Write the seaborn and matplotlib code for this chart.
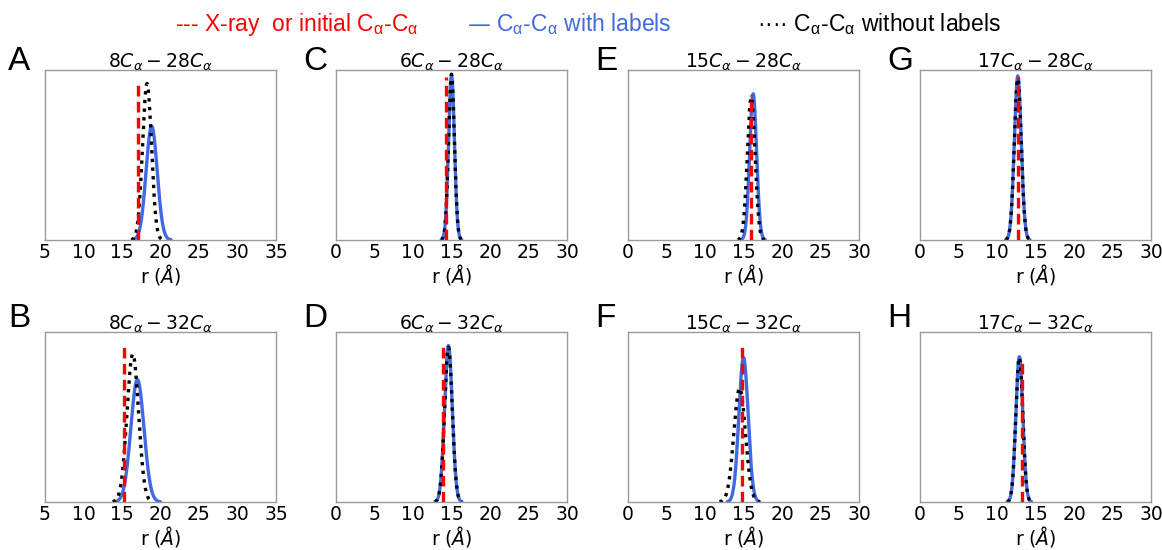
import numpy as np
import pandas as pd
import matplotlib
matplotlib.use("Agg")
import matplotlib.pyplot as plt
import seaborn as sns

# ---------------- data ----------------
panels = ["A", "B", "C", "D", "E", "F", "G", "H"]
titles = [r"$8C_{\alpha} - 28C_{\alpha}$", r"$8C_{\alpha} - 32C_{\alpha}$",
          r"$6C_{\alpha} - 28C_{\alpha}$", r"$6C_{\alpha} - 32C_{\alpha}$",
          r"$15C_{\alpha} - 28C_{\alpha}$", r"$15C_{\alpha} - 32C_{\alpha}$",
          r"$17C_{\alpha} - 28C_{\alpha}$", r"$17C_{\alpha} - 32C_{\alpha}$"]
x_min = [5, 5, 0, 0, 0, 0, 0, 0]
x_max = [35, 35, 30, 30, 30, 30, 30, 30]
# X-ray / initial distance (dashed red) and drawn height (fraction of axis)
xray_pos = [17.1, 15.3, 14.25, 13.9, 15.95, 14.75, 12.7, 13.2]
xray_height = [0.92, 0.91, 0.96, 0.91, 0.85, 0.91, 0.96, 0.83]
# distribution with labels (blue)
lab_mean = [18.85, 17.0, 15.0, 14.6, 16.25, 15.0, 12.7, 12.9]
lab_sd = [0.72, 0.85, 0.38, 0.5, 0.45, 0.6, 0.45, 0.45]
lab_peak = [0.67, 0.72, 0.97, 0.92, 0.86, 0.85, 0.965, 0.855]
# distribution without labels (black dotted)
nolab_mean = [18.25, 16.4, 15.0, 14.6, 16.0, 14.5, 12.7, 12.9]
nolab_sd = [0.58, 0.75, 0.38, 0.5, 0.5, 0.75, 0.45, 0.45]
nolab_peak = [0.92, 0.87, 0.975, 0.91, 0.84, 0.67, 0.95, 0.85]

# ---------------- style ----------------
sns.set_style("white", {"axes.edgecolor": "#9a9a9a"})
plt.rcParams["font.family"] = ["DejaVu Sans"]
plt.rcParams["axes.linewidth"] = 1.0
plt.rcParams["text.color"] = "black"
plt.rcParams["axes.labelcolor"] = "black"
plt.rcParams["xtick.color"] = "black"

W, H = 1162, 550
fig = plt.figure(figsize=(W / 100, H / 100), dpi=100)

col_left = [45, 336, 628, 920]
row_top = [70, 332]
ax_w, ax_h = 231, 170

blue = "#4169e1"


def gauss(x, m, s, p):
    return p * np.exp(-0.5 * ((x - m) / s) ** 2)


for i, name in enumerate(panels):
    col, row = i // 2, i % 2
    l, t = col_left[col], row_top[row]
    ax = fig.add_axes([l / W, 1 - (t + ax_h) / H, ax_w / W, ax_h / H])
    g1 = np.linspace(lab_mean[i] - 3.5 * lab_sd[i], lab_mean[i] + 3.5 * lab_sd[i], 400)
    g2 = np.linspace(nolab_mean[i] - 3.5 * nolab_sd[i], nolab_mean[i] + 3.5 * nolab_sd[i], 400)
    df1 = pd.DataFrame({"r": g1, "p": gauss(g1, lab_mean[i], lab_sd[i], lab_peak[i])})
    df2 = pd.DataFrame({"r": g2, "p": gauss(g2, nolab_mean[i], nolab_sd[i], nolab_peak[i])})
    sns.lineplot(data=df1, x="r", y="p", ax=ax, color=blue, lw=2.4)
    sns.lineplot(data=df2, x="r", y="p", ax=ax, color="black", lw=2.4,
                 linestyle=(0, (1, 1.6)))
    ax.vlines(xray_pos[i], 0, xray_height[i], color="red", lw=2.4,
              linestyles=[(0, (3.2, 1.6))], zorder=5)
    ax.set_xlim(x_min[i], x_max[i])
    ax.set_ylim(0, 1)
    ax.set_xticks(np.arange(x_min[i], x_max[i] + 1, 5))
    ax.set_yticks([])
    ax.tick_params(axis="x", labelsize=13.5, pad=2, length=0, labelcolor="black")
    ax.set_ylabel("")
    ax.set_xlabel(r"r ($\mathit{Å}$)", fontsize=13.5, labelpad=0, color="black")
    ax.set_title(titles[i], fontsize=13.5, pad=2, color="black")
    for s in ax.spines.values():
        s.set_color("#9a9a9a")
        s.set_linewidth(1.0)

# panel letters
letter_x = [8, 303, 595, 887]
letter_base = [70, 327]
for i, name in enumerate(panels):
    col, row = i // 2, i % 2
    fig.text(letter_x[col] / W, 1 - letter_base[row] / H, name, color="black",
             fontsize=24, family="Liberation Sans", va="baseline", ha="left")

# legend as text
ca = r"$\mathregular{C_\alpha}$"
leg_items = [
    (175, "--- X-ray  or initial " + ca + "-" + ca, "red"),
    (467, "\u2014 " + ca + "-" + ca + " with labels", blue),
    (757, "···· " + ca + "-" + ca + " without labels", "black"),
]
for x, txt, c in leg_items:
    fig.text(x / W, 1 - 31 / H, txt, color=c, fontsize=16.5,
             family="Liberation Sans", va="baseline", ha="left")

fig.savefig("out.png", dpi=100)
